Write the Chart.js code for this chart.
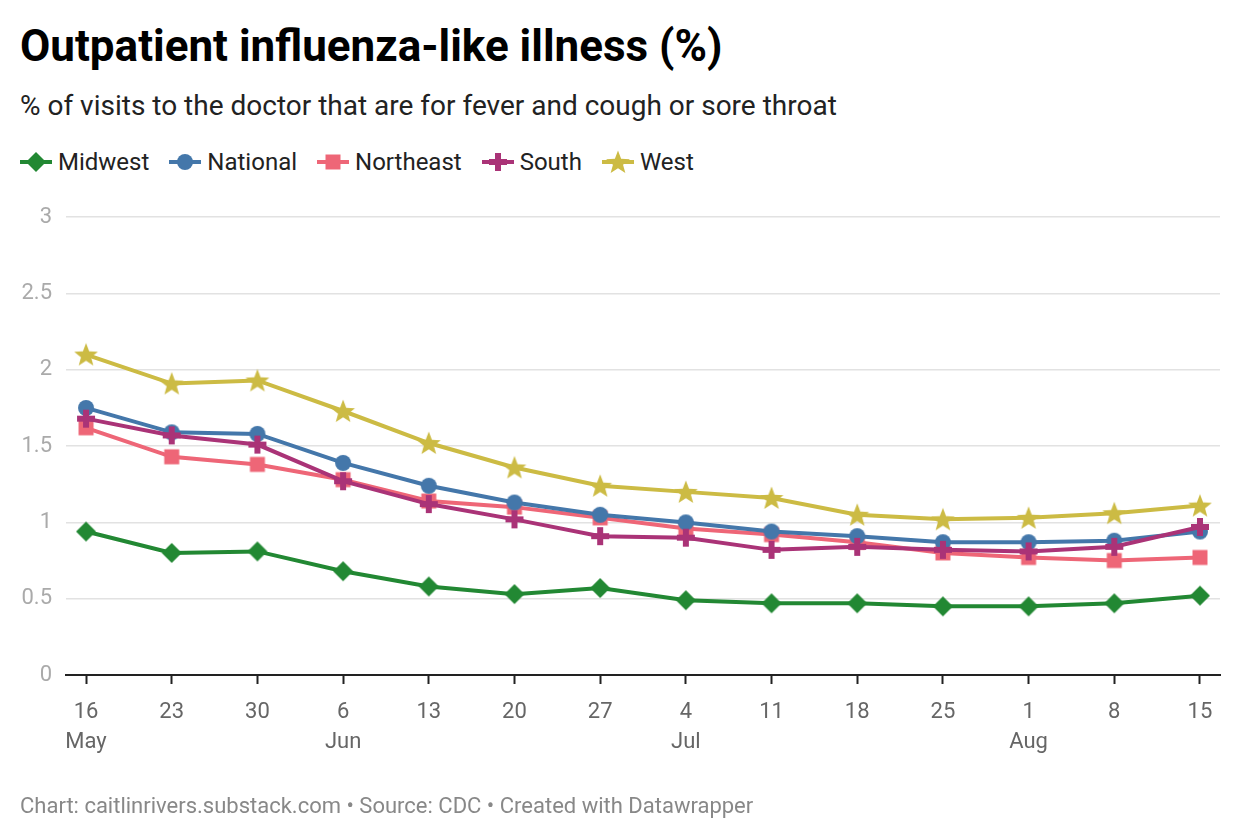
<!DOCTYPE html>
<html>
<head>
<meta charset="utf-8">
<title>Outpatient influenza-like illness (%)</title>
<script src="https://cdn.jsdelivr.net/npm/chart.js@4.4.1/dist/chart.umd.min.js"></script>
<style>
    body {
        margin: 0;
        width: 1240px;
        height: 840px;
        position: relative;
        overflow: hidden;
        background: #fff;
        font-family: Roboto, "Noto Sans", sans-serif;
    }
    .titulo {
        position: absolute;
        left: 20px;
        top: 24px;
        margin: 0;
        font-size: 44px;
        line-height: 1;
        font-weight: 700;
        color: #000;
    }
    .subtitulo {
        position: absolute;
        left: 20px;
        top: 92px;
        font-size: 28px;
        line-height: 1;
        color: #222;
    }
    #legenda {
        position: absolute;
        left: 20px;
        top: 148px;
        height: 28px;
        display: flex;
        align-items: center;
        font-size: 24px;
        color: #222;
    }
    .item-legenda {
        display: flex;
        align-items: center;
        margin-right: 20px;
    }
    .item-legenda canvas {
        margin-right: 6px;
    }
    #caixa-grafico {
        position: absolute;
        left: 0;
        top: 190px;
        width: 1240px;
        height: 620px;
    }
    .rodape {
        position: absolute;
        left: 20px;
        top: 795px;
        font-size: 22px;
        line-height: 1;
        color: #888;
    }
</style>
</head>
<body>
<h1 class="titulo">Outpatient influenza-like illness (%)</h1>
<div class="subtitulo">% of visits to the doctor that are for fever and cough or sore throat</div>
<div id="legenda"></div>
<div id="caixa-grafico"><canvas id="grafico"></canvas></div>
<div class="rodape">Chart: caitlinrivers.substack.com • Source: CDC • Created with Datawrapper</div>

<script>
// semanas (dia + mes do rotulo do eixo x)
var dias = ["16", "23", "30", "6", "13", "20", "27", "4", "11", "18", "25", "1", "8", "15"];
var meses = ["May", "", "", "Jun", "", "", "", "Jul", "", "", "", "Aug", "", ""];

// valores (%)
var midwest = [0.94, 0.80, 0.81, 0.68, 0.58, 0.53, 0.57, 0.49, 0.47, 0.47, 0.45, 0.45, 0.47, 0.52];
var national = [1.75, 1.59, 1.58, 1.39, 1.24, 1.13, 1.05, 1.00, 0.94, 0.91, 0.87, 0.87, 0.88, 0.94];
var northeast = [1.62, 1.43, 1.38, 1.28, 1.14, 1.10, 1.03, 0.96, 0.92, 0.87, 0.80, 0.77, 0.75, 0.77];
var south = [1.68, 1.57, 1.51, 1.27, 1.12, 1.02, 0.91, 0.90, 0.82, 0.84, 0.82, 0.81, 0.84, 0.97];
var west = [2.10, 1.91, 1.93, 1.73, 1.52, 1.36, 1.24, 1.20, 1.16, 1.05, 1.02, 1.03, 1.06, 1.11];

var ticksY = [0, 0.5, 1, 1.5, 2, 2.5, 3];

var regioes = ["Midwest", "National", "Northeast", "South", "West"];
var valores = [midwest, national, northeast, south, west];
var cores = ["#228833", "#4477aa", "#ee6677", "#aa3377", "#ccbb44"];
var formas = ["diamante", "circulo", "quadrado", "mais", "estrela"];
var ordem = [5, 3, 4, 2, 1];

function desenhaForma(ctx, forma, cx, cy) {
    ctx.beginPath();
    if (forma == "diamante") {
        ctx.moveTo(cx, cy - 10);
        ctx.lineTo(cx + 10, cy);
        ctx.lineTo(cx, cy + 10);
        ctx.lineTo(cx - 10, cy);
        ctx.closePath();
    } else if (forma == "circulo") {
        ctx.arc(cx, cy, 8, 0, Math.PI * 2);
    } else if (forma == "quadrado") {
        ctx.rect(cx - 7.5, cy - 7.5, 15, 15);
    } else if (forma == "mais") {
        ctx.rect(cx - 3, cy - 9, 6, 18);
        ctx.rect(cx - 9, cy - 3, 18, 6);
    } else if (forma == "estrela") {
        for (var k = 0; k < 10; k++) {
            var r = k % 2 == 0 ? 12.5 : 5.3;
            var ang = -Math.PI / 2 + k * Math.PI / 5;
            var px = cx + r * Math.cos(ang);
            var py = cy + 1 + r * Math.sin(ang);
            if (k == 0) ctx.moveTo(px, py); else ctx.lineTo(px, py);
        }
        ctx.closePath();
    }
    ctx.fill();
}

function criaMarcador(forma, cor) {
    var c = document.createElement("canvas");
    c.width = 28;
    c.height = 28;
    var ctx = c.getContext("2d");
    ctx.fillStyle = cor;
    desenhaForma(ctx, forma, 14, 14);
    return c;
}

function montaLegenda() {
    var legenda = document.getElementById("legenda");
    for (var i = 0; i < regioes.length; i++) {
        var item = document.createElement("div");
        item.className = "item-legenda";
        var icone = document.createElement("canvas");
        icone.width = 32;
        icone.height = 28;
        var ctx = icone.getContext("2d");
        ctx.fillStyle = cores[i];
        ctx.fillRect(0, 12, 32, 4);
        desenhaForma(ctx, formas[i], 16, 14);
        item.appendChild(icone);
        var texto = document.createElement("span");
        texto.innerHTML = regioes[i];
        item.appendChild(texto);
        legenda.appendChild(item);
    }
}

function montaGrafico() {
    var datasets = [];
    for (var i = 0; i < regioes.length; i++) {
        var pontos = [];
        for (var j = 0; j < dias.length; j++) {
            pontos[j] = { x: j, y: valores[i][j] };
        }
        datasets.push({
            label: regioes[i],
            data: pontos,
            borderColor: cores[i],
            backgroundColor: cores[i],
            borderWidth: 4,
            pointStyle: criaMarcador(formas[i], cores[i]),
            pointRadius: 10,
            order: ordem[i]
        });
    }

    var ctx = document.getElementById("grafico");
    new Chart(ctx, {
        type: "line",
        data: { datasets: datasets },
        options: {
            responsive: true,
            maintainAspectRatio: false,
            animation: false,
            events: [],
            layout: { padding: { left: 0, right: 20, top: 20, bottom: 0 } },
            plugins: {
                legend: { display: false },
                tooltip: { enabled: false }
            },
            scales: {
                x: {
                    type: "linear",
                    min: -0.234,
                    max: 13.234,
                    afterBuildTicks: function (escala) {
                        escala.ticks = dias.map(function (d, i) { return { value: i }; });
                    },
                    afterFit: function (escala) {
                        escala.height = 135;
                    },
                    ticks: {
                        autoSkip: false,
                        maxRotation: 0,
                        padding: 14,
                        color: "#666",
                        font: { family: "Roboto", size: 22, lineHeight: 1.36 },
                        callback: function (valor, indice) {
                            return [dias[indice], meses[indice]];
                        }
                    },
                    grid: {
                        drawOnChartArea: false,
                        drawTicks: true,
                        tickLength: 9,
                        tickColor: "#222",
                        tickWidth: 2
                    },
                    border: { display: true, color: "#222", width: 2 }
                },
                y: {
                    min: 0,
                    max: 3,
                    afterBuildTicks: function (escala) {
                        escala.ticks = ticksY.map(function (v) { return { value: v }; });
                    },
                    afterFit: function (escala) {
                        escala.width = 66;
                    },
                    ticks: {
                        padding: 14,
                        color: "#aaa",
                        font: { family: "Roboto", size: 22 },
                        callback: function (valor) { return String(valor); }
                    },
                    grid: {
                        color: "#e2e2e2",
                        lineWidth: 1.5,
                        drawTicks: false
                    },
                    border: { display: false }
                }
            }
        }
    });
}

window.onload = function () {
    montaLegenda();
    montaGrafico();
}
</script>
</body>
</html>
